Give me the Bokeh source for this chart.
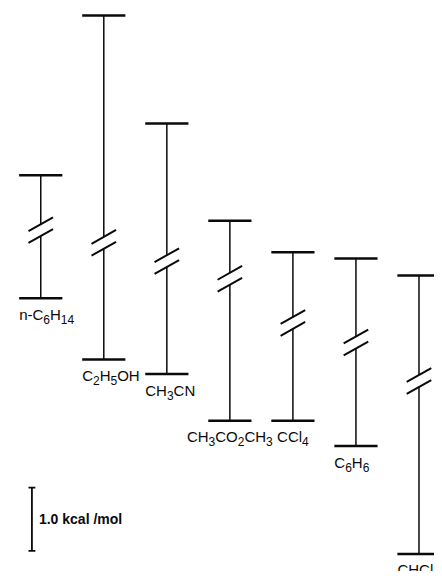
import re
from bokeh.plotting import figure
from bokeh.models import Range1d, ColumnDataSource
from bokeh.core.properties import value
from bokeh.embed import file_html
from bokeh.resources import INLINE

# ---- data (energies in kcal/mol, relative scale) ----
solvents = ["n-C6H14", "C2H5OH", "CH3CN", "CH3CO2CH3", "CCl4", "C6H6", "CHCl3"]
top_level = [5.95, 8.48, 6.77, 5.23, 4.73, 4.63, 4.36]
bottom_level = [4.00, 3.03, 2.80, 2.06, 2.06, 1.66, -0.05]
break_at = [5.08, 4.88, 4.59, 4.31, 3.61, 3.30, 2.69]
scale_bar = [0.0, 1.0]
scale_label = "1.0 kcal /mol"

# ---- style ----
label_align = ["left", "left", "left", "center", "center", "left", "left"]
PX_X = 64.2      # reference px per column
PX_Y = 64.0      # reference px per kcal/mol
FONT = "Liberation Sans"
MAIN_SIZE = 15
SUB_SIZE = 12
W_FIG, H_FIG = 434, 571

xs = list(range(len(solvents)))

p = figure(width=W_FIG, height=H_FIG,
           x_range=Range1d((0 - 41) / PX_X, (442 - 41) / PX_X),
           y_range=Range1d((558 - 579) / PX_Y, (558 - 0) / PX_Y),
           output_backend="svg", toolbar_location=None, min_border=0)
p.xaxis.visible = False
p.yaxis.visible = False
p.grid.visible = False
p.outline_line_color = None
p.background_fill_color = "white"

col = "#0a0a0a"
gap = 6 / PX_Y
hw = 22 / PX_X
sdx = 12.5 / PX_X
sdy = 7 / PX_Y

# vertical lines (broken)
p.segment(x0=xs, y0=top_level, x1=xs, y1=[b + gap for b in break_at],
          line_color=col, line_width=1.5)
p.segment(x0=xs, y0=[b - gap for b in break_at], x1=xs, y1=bottom_level,
          line_color=col, line_width=1.5)
# level bars
p.segment(x0=[x - hw for x in xs], y0=top_level, x1=[x + hw for x in xs], y1=top_level,
          line_color=col, line_width=2.5)
p.segment(x0=[x - hw for x in xs], y0=bottom_level, x1=[x + hw for x in xs], y1=bottom_level,
          line_color=col, line_width=2.5)
# break slashes
for off in (gap, -gap):
    p.segment(x0=[x - sdx for x in xs], y0=[b + off - sdy for b in break_at],
              x1=[x + sdx for x in xs], y1=[b + off + sdy for b in break_at],
              line_color=col, line_width=2.0)

# labels with subscripts (Arial / Liberation Sans metrics)
W = {'C': 722, 'H': 722, 'O': 778, 'N': 722, 'l': 222, 'n': 556, '-': 333}
def seg_width(s, size):
    return sum(W.get(ch, 556) for ch in s) / 1000 * size

bar_half_px = 22 * W_FIG / 442
main = dict(x=[], y=[], text=[], xo=[], yo=[])
sub = dict(x=[], y=[], text=[], xo=[], yo=[])
for x, b, name, al in zip(xs, bottom_level, solvents, label_align):
    parts = re.findall(r'\d+|\D+', name)
    widths = [seg_width(s, SUB_SIZE if s.isdigit() else MAIN_SIZE) for s in parts]
    cur = -sum(widths) / 2 if al == "center" else -bar_half_px
    for s, w in zip(parts, widths):
        d = sub if s.isdigit() else main
        d['x'].append(x); d['y'].append(b); d['text'].append(s)
        d['xo'].append(cur); d['yo'].append(21 if s.isdigit() else 16)
        cur += w

p.text(x='x', y='y', text='text', x_offset='xo', y_offset='yo',
       source=ColumnDataSource(main), text_font=value(FONT),
       text_font_size=f"{MAIN_SIZE}px", text_align="left",
       text_baseline="alphabetic", text_color=col)
p.text(x='x', y='y', text='text', x_offset='xo', y_offset='yo',
       source=ColumnDataSource(sub), text_font=value(FONT),
       text_font_size=f"{SUB_SIZE}px", text_align="left",
       text_baseline="alphabetic", text_color=col)

# scale bar
sx = (32 - 41) / PX_X
cap = 3.5 / PX_X
p.segment(x0=[sx], y0=[scale_bar[0]], x1=[sx], y1=[scale_bar[1]], line_color=col, line_width=1.8)
p.segment(x0=[sx - cap, sx - cap], y0=scale_bar, x1=[sx + cap, sx + cap], y1=scale_bar,
          line_color=col, line_width=1.8)
p.text(x=[sx], y=[sum(scale_bar) / 2], text=[scale_label], x_offset=7,
       text_font=value(FONT), text_font_size="14px", text_font_style="bold",
       text_align="left", text_baseline="middle", text_color=col)

open("out.html", "w").write(file_html(p, INLINE))
